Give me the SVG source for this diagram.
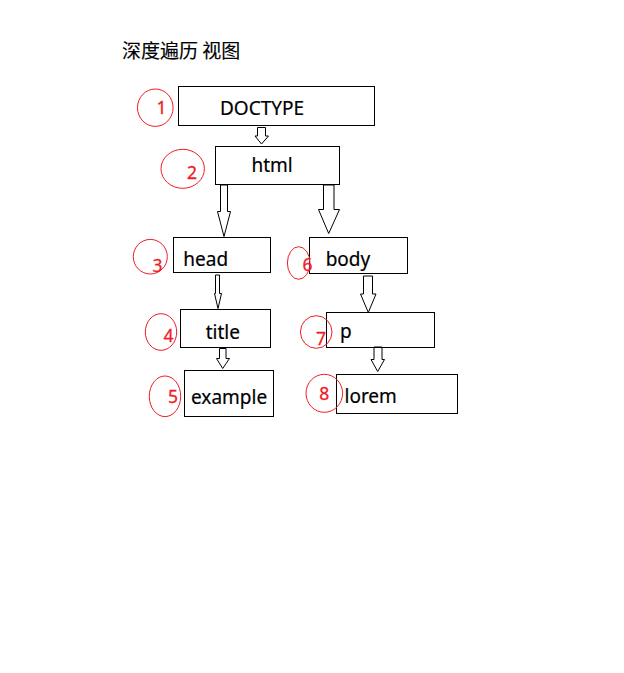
<svg xmlns="http://www.w3.org/2000/svg" width="624" height="673" viewBox="0 0 624 673">
<style>
.box{fill:none;stroke:#000;stroke-width:1}
.lbl{font-family:"Noto Sans","Liberation Sans",sans-serif;font-size:19px;fill:#000;stroke:#000;stroke-width:0.2}
.num{fill:none;stroke:#ee1c25;stroke-width:1}
.nt{font-family:"Noto Sans","Liberation Sans",sans-serif;font-size:17.5px;fill:#ee1c25;stroke:#ee1c25;stroke-width:0.3}
.arr{fill:#fff;stroke:#000;stroke-width:1;stroke-linejoin:miter}
</style>
<rect width="624" height="673" fill="#fff"/>
<text x="122" y="58" font-family="'Noto Sans CJK SC','Noto Sans',sans-serif" font-size="19" fill="#000" stroke="#000" stroke-width="0.15">深度遍历 视图</text>
<g id="connectors">
<polygon class="arr" points="257.5,127.5 265.5,127.5 265.5,136 268.5,136 261.5,144 255,136 257.5,136"/>
<polygon class="arr" points="220.5,185 227.5,185 227.5,211.5 230.5,211.5 224,236.5 217.5,211.5 220.5,211.5"/>
<polygon class="arr" points="323.5,185 334,185 334,209.5 339.5,209.5 328.7,233.5 318.5,209.5 323.5,209.5"/>
<polygon class="arr" points="215.5,275 219.5,275 219.5,293.5 221.5,293.5 218,308.5 214.5,293.5 215.5,293.5"/>
<polygon class="arr" points="363.5,276 372.5,276 372.5,294 376,294 368.3,312.5 360.5,294 363.5,294"/>
<polygon class="arr" points="219.5,348.5 226,348.5 226,358.5 229.5,358.5 222.7,368.5 216.5,358.5 219.5,358.5"/>
<polygon class="arr" points="374,347 382,347 382,359.5 384.5,359.5 377.7,371.5 371,359.5 374,359.5"/>
</g>
<g id="n1"><rect class="box" x="178.5" y="86.5" width="196" height="39"/><text class="lbl" x="220" y="115">DOCTYPE</text>
<ellipse class="num" cx="155.3" cy="107.7" rx="17.8" ry="18.7"/><text class="nt" x="156.5" y="114.3">1</text></g>
<g id="n2"><rect class="box" x="215.5" y="146.5" width="124" height="38"/><text class="lbl" x="251.5" y="171.7">html</text>
<ellipse class="num" cx="182.7" cy="168.8" rx="21.7" ry="19.5"/><text class="nt" x="187" y="179.3">2</text></g>
<g id="n3"><rect class="box" x="173.5" y="237.5" width="97" height="35"/><text class="lbl" x="183.3" y="265.7">head</text>
<ellipse class="num" cx="150.3" cy="256.7" rx="17" ry="17.3"/><text class="nt" x="152.5" y="271.7">3</text></g>
<g id="n4"><rect class="box" x="180.5" y="309.5" width="90" height="38"/><text class="lbl" x="205.7" y="339.3">title</text>
<ellipse class="num" cx="161" cy="332" rx="15.7" ry="18.3"/><text class="nt" x="163.5" y="342">4</text></g>
<g id="n5"><rect class="box" x="184.5" y="370.5" width="89" height="46"/><text class="lbl" x="191" y="404.3">example</text>
<ellipse class="num" cx="165" cy="396.3" rx="15.7" ry="20.3"/><text class="nt" x="168" y="403.3">5</text></g>
<g id="n6"><rect class="box" x="309.5" y="237.5" width="98" height="36"/><text class="lbl" x="325.7" y="265.7">body</text>
<ellipse class="num" cx="298.7" cy="263" rx="11.3" ry="16.3"/><text class="nt" x="302.5" y="270.7">6</text></g>
<g id="n7"><rect class="box" x="326.5" y="312.5" width="108" height="35"/><text class="lbl" x="340" y="338.3">p</text>
<ellipse class="num" cx="316.2" cy="332" rx="15.8" ry="16.3"/><text class="nt" x="316" y="345">7</text></g>
<g id="n8"><rect class="box" x="336.5" y="374.5" width="121" height="39"/><text class="lbl" x="344.5" y="403.3">lorem</text>
<ellipse class="num" cx="324.3" cy="393.3" rx="18.3" ry="19"/><text class="nt" x="319.3" y="400">8</text></g>
</svg>
